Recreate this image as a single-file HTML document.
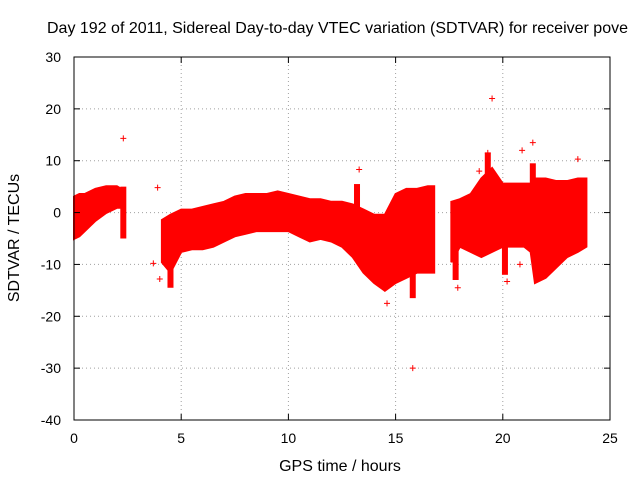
<!DOCTYPE html>
<html><head><meta charset="utf-8"><style>
body{margin:0;background:#fff;}
svg{display:block;font-family:"Liberation Sans",sans-serif;}
</style></head><body>
<svg id="chart" width="640" height="480">
<text x="47" y="33" font-size="16">Day 192 of 2011, Sidereal Day-to-day VTEC variation (SDTVAR) for receiver pove</text>
<g id="grid"></g><g id="data"></g><g id="axes"></g>
<text x="340" y="471" font-size="16" text-anchor="middle">GPS time / hours</text>
<text transform="translate(19,238) rotate(-90)" font-size="16" text-anchor="middle">SDTVAR / TECUs</text>
</svg>
<script>
const times=[0,0.25,0.5,1,1.5,2,2.2,null,4.1,4.5,5,5.5,6,6.5,7,7.5,8,8.5,9,9.5,10,10.5,11,11.5,12,12.5,13,13.5,14,14.5,15,15.5,16,16.5,16.8,null,17.6,18,18.5,19,19.5,20,20.5,21,21.3,21.5,22,22.5,23,23.5,23.9];
const highs=[2.5,3,3,4,4.5,4.5,4,null,-2,-1,0,0,0.5,1,1.5,2.5,3,3,3,3.5,3,2.5,2,2,1.5,1.5,1,0,-1,-1,3,4,4,4.5,4.5,null,1.5,2,3,6,8,5,5,5,5,6,6,5.5,5.5,6,6];
const lows=[-4.5,-4,-3,-1,0.5,1.5,1.5,null,-9,-11,-7,-6.5,-6.5,-6,-5,-4,-3.5,-3,-3,-3,-3,-4,-5,-4.5,-5,-6,-8,-11,-13,-14.5,-13,-12,-11,-11,-11,null,-9,-6,-7,-8,-7,-6,-6,-6,-7,-13,-12,-10,-8,-7,-6];
const spikeX=[2.3,4.5,15.8,19.3,21.4,20.1,13.2,17.8];
const spikeLo=[-5,-14.5,-16.5,0,0,-12,-3,-13];
const spikeHi=[5,-2,2,11.5,9.5,3,5.5,2];
const outX=[2.3,19.5,15.8,14.6,20.9,21.4,13.3,23.5,19.3,3.9,3.7,4.0,17.9,20.2,20.8,18.9];
const outY=[14.3,22,-30,-17.5,12,13.5,8.3,10.3,11.5,4.8,-9.8,-12.8,-14.5,-13.3,-10,8];
const xTicks=[0,5,10,15,20,25];
const yTicks=[-40,-30,-20,-10,0,10,20,30];
const X0=74,X1=610,Y0=420,Y1=57;
const xs=v=>X0+(v-0)/25*(X1-X0);
const ys=v=>Y0-(v+40)/70*(Y0-Y1);
const NS="http://www.w3.org/2000/svg";
function mk(p,tag,a){const e=document.createElementNS(NS,tag);for(const k in a)e.setAttribute(k,a[k]);p.appendChild(e);return e;}
const grid=document.getElementById('grid'),data=document.getElementById('data'),axes=document.getElementById('axes');
xTicks.forEach(t=>{
 if(t>0&&t<25){const l=mk(grid,'line',{x1:xs(t),x2:xs(t),y1:Y1,y2:Y0,stroke:'#a0a0a0','stroke-dasharray':'1,3'});
 
 }
 const tx=mk(axes,'text',{x:xs(t),y:Y0+23,'font-size':14,'text-anchor':'middle'});tx.textContent=t;
 
 
 mk(axes,'line',{x1:xs(t),x2:xs(t),y1:Y0,y2:Y0-6,stroke:'#000'});
 mk(axes,'line',{x1:xs(t),x2:xs(t),y1:Y1,y2:Y1+6,stroke:'#000'});
});
yTicks.forEach(t=>{
 if(t>-40&&t<30){const l=mk(grid,'line',{x1:X0,x2:X1,y1:ys(t),y2:ys(t),stroke:'#a0a0a0','stroke-dasharray':'1,3'});
 
 }
 const tx=mk(axes,'text',{x:X0-13,y:ys(t)+5,'font-size':14,'text-anchor':'end'});tx.textContent=t;
 
 
 mk(axes,'line',{x1:X0,x2:X0+6,y1:ys(t),y2:ys(t),stroke:'#000'});
 mk(axes,'line',{x1:X1,x2:X1-6,y1:ys(t),y2:ys(t),stroke:'#000'});
});
const fr=mk(axes,'rect',{x:X0,y:Y1,width:X1-X0,height:Y0-Y1,fill:'none',stroke:'#000'});


let seg=[];
function flush(){
 if(seg.length<2){seg=[];return;}
 let d='M'+seg.map(i=>xs(times[i])+','+(ys(highs[i])-3)).join('L');
 d+='L'+seg.slice().reverse().map(i=>xs(times[i])+','+(ys(lows[i])+3)).join('L')+'Z';
 const p=mk(data,'path',{d:d,fill:'#ff0000',stroke:'#ff0000','stroke-width':2});
 
 
 seg=[];
}
times.forEach((t,i)=>{if(t===null)flush();else seg.push(i);});flush();
spikeX.forEach((x,i)=>{
 const s=mk(data,'rect',{x:xs(x)-3,y:ys(spikeHi[i]),width:6,height:ys(spikeLo[i])-ys(spikeHi[i]),fill:'#ff0000'});
 
 
});
outX.forEach((x,i)=>{
 const cx=xs(x),cy=ys(outY[i]);
 const g=mk(data,'path',{d:`M${cx-3},${cy}H${cx+3}M${cx},${cy-3}V${cy+3}`,stroke:'#ff0000','stroke-width':1});
 
 
});
</script>
</body></html>
